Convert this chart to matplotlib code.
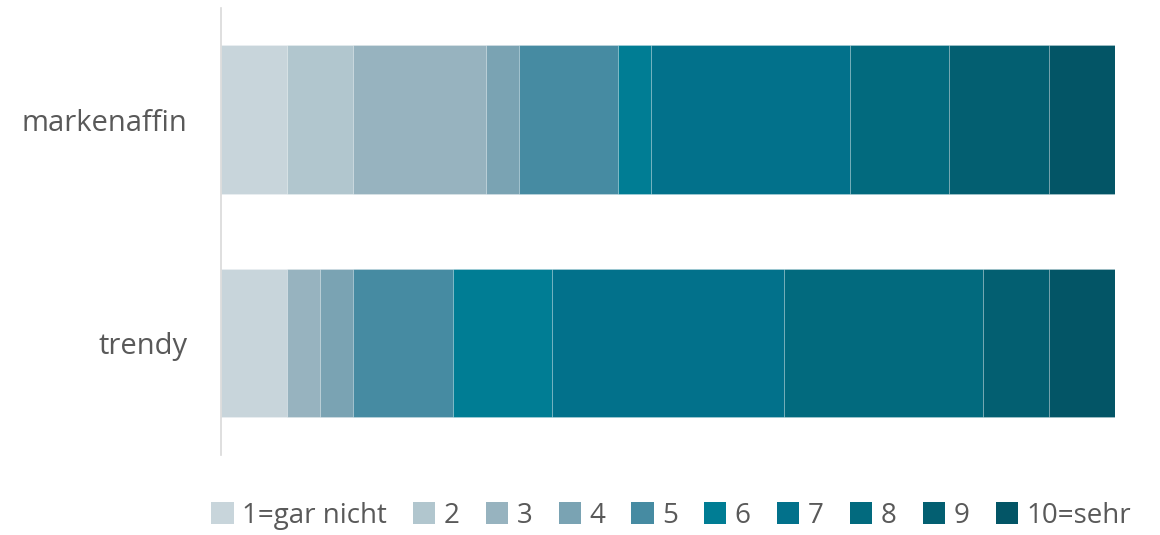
import numpy as np
import matplotlib.pyplot as plt

plt.rcParams['font.family'] = ['Open Sans', 'DejaVu Sans']

# survey counts per rating (n=27 each)
categories = ["markenaffin", "trendy"]
ratings = ["1=gar nicht", "2", "3", "4", "5", "6", "7", "8", "9", "10=sehr"]
counts = {
    "markenaffin": [2, 2, 4, 1, 3, 1, 6, 3, 3, 2],
    "trendy":      [2, 0, 1, 1, 3, 3, 7, 6, 2, 2],
}
colors = ["#c8d5db", "#b1c6ce", "#97b3bf", "#7aa3b3", "#468ba2",
          "#007d94", "#02718b", "#026a7e", "#035f71", "#035566"]

data = np.array([counts[c] for c in categories], dtype=float)
share = data / data.sum(axis=1, keepdims=True)

fig = plt.figure(figsize=(11.6, 5.35), dpi=100)
ax = fig.add_axes([0.1905, 0.15, 0.7707, 0.835])

y = np.arange(len(categories))
left = np.zeros(len(categories))
for i, lab in enumerate(ratings):
    ax.barh(y, share[:, i], left=left, height=0.665, color=colors[i],
            label=lab, edgecolor=(1, 1, 1, 0.25), linewidth=0.6)
    left += share[:, i]

ax.set_xlim(0, 1)
ax.set_ylim(1.5, -0.5)
ax.set_yticks(y)
ax.set_yticklabels(categories, fontsize=21, color="#595959")
ax.tick_params(axis='y', length=0, pad=24)
ax.set_xticks([])
for s in ["top", "right", "bottom"]:
    ax.spines[s].set_visible(False)
ax.spines["left"].set_color("#d9d9d9")
ax.spines["left"].set_linewidth(1.2)

leg = fig.legend(loc="center", bbox_to_anchor=(0.5785, 0.036), ncol=10,
                 frameon=False, fontsize=20, handlelength=0.8, handleheight=0.8,
                 handletextpad=0.3, columnspacing=0.95, labelcolor="#595959")
for h in leg.legend_handles:
    h.set_linewidth(0)

fig.savefig("out.png", dpi=100)
